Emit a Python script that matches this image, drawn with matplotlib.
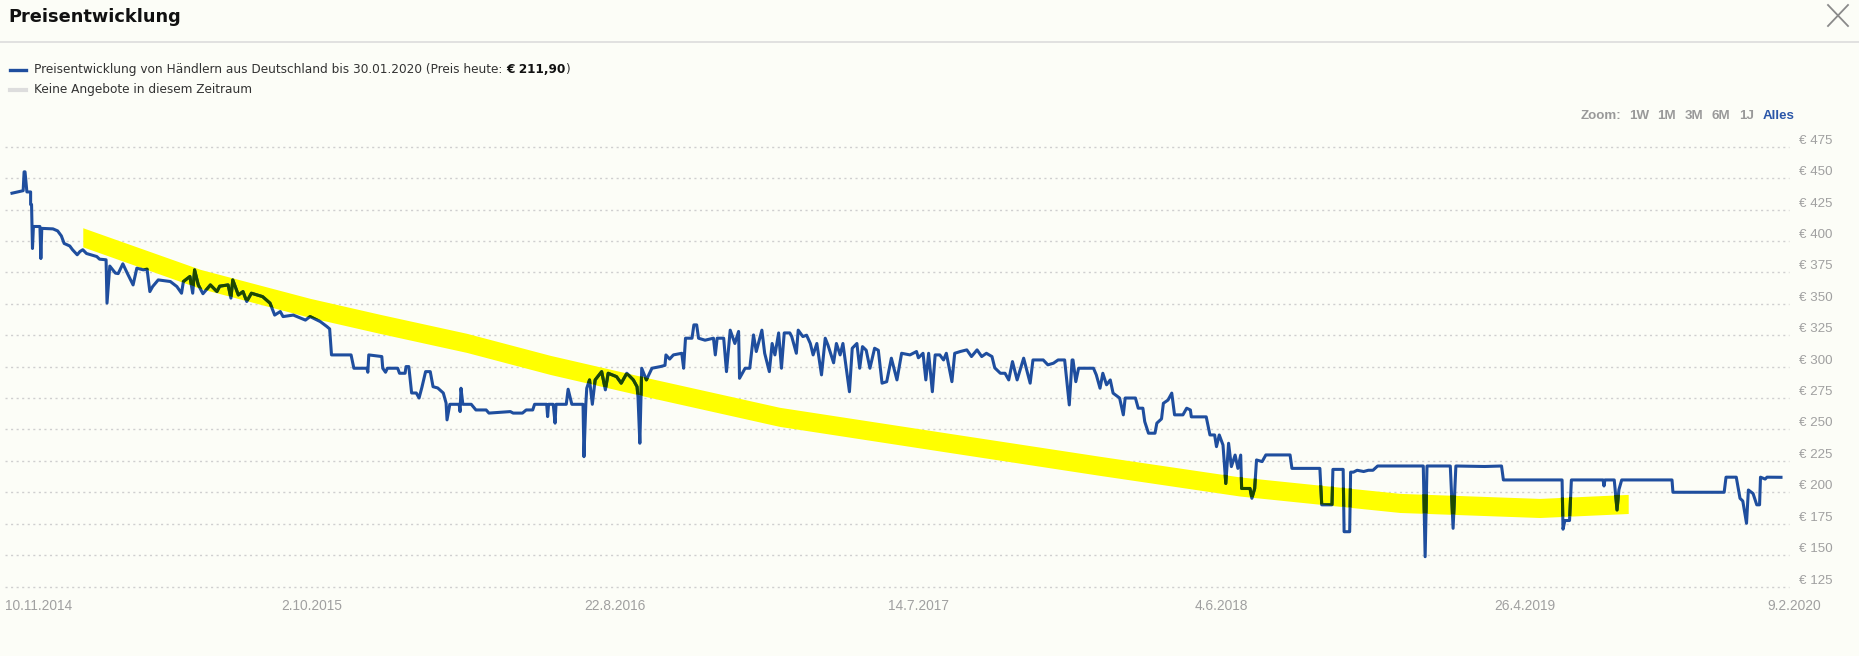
import numpy as np
import pandas as pd
import matplotlib
matplotlib.use('Agg')
import matplotlib.pyplot as plt
import matplotlib.transforms as mtransforms

# Start der Zeitachse, alle Werte sind Tage seit diesem Datum
start = pd.Timestamp('2014-11-10')

price_days = [
    4, 16, 17, 18, 20, 24, 24, 25, 26, 27, 34, 35, 36, 48, 53, 57, 60, 66, 69, 74,
    77, 80, 84, 95, 98, 105, 106, 109, 115, 118, 123, 128, 134, 138, 145, 149, 152, 155, 161, 174,
    181, 186, 188, 195, 198, 200, 204, 209, 217, 224, 227, 236, 239, 241, 247, 252, 256, 261, 273, 281,
    286, 292, 295, 306, 319, 324, 335, 342, 345, 347, 368, 371, 385, 386, 387, 401, 402, 405, 407, 418,
    420, 426, 427, 430, 433, 438, 441, 444, 448, 453, 456, 461, 467, 470, 471, 474, 484, 485, 486, 488,
    497, 502, 513, 516, 539, 542, 552, 556, 563, 565, 578, 579, 580, 585, 587, 588, 599, 601, 605, 617,
    618, 620, 621, 624, 627, 630, 637, 641, 644, 653, 658, 664, 671, 675, 676, 678, 680, 685, 691, 700,
    705, 706, 710, 714, 723, 725, 727, 734, 736, 739, 741, 748, 757, 759, 761, 768, 771, 775, 780, 784,
    785, 791, 796, 800, 803, 809, 812, 817, 820, 823, 827, 830, 833, 839, 841, 846, 848, 853, 857, 861,
    864, 868, 873, 877, 880, 886, 889, 893, 896, 903, 906, 911, 914, 917, 921, 925, 930, 934, 938, 943,
    948, 954, 959, 968, 975, 977, 982, 985, 988, 992, 995, 1000, 1004, 1007, 1013, 1016, 1022, 1029, 1034, 1040,
    1045, 1050, 1056, 1059, 1065, 1070, 1074, 1078, 1083, 1090, 1097, 1100, 1111, 1116, 1122, 1127, 1134, 1139, 1142, 1143,
    1146, 1149, 1165, 1168, 1172, 1175, 1179, 1183, 1186, 1193, 1197, 1199, 1210, 1213, 1218, 1220, 1224, 1231, 1233, 1238,
    1240, 1245, 1249, 1252, 1261, 1265, 1269, 1270, 1286, 1290, 1295, 1297, 1300, 1304, 1307, 1310, 1313, 1317, 1320, 1323,
    1324, 1333, 1335, 1338, 1340, 1346, 1350, 1376, 1378, 1408, 1410, 1421, 1422, 1433, 1434, 1440, 1441, 1444, 1448, 1455,
    1460, 1465, 1470, 1519, 1521, 1523, 1548, 1551, 1554, 1585, 1603, 1605, 1668, 1669, 1671, 1676, 1678, 1712, 1713, 1714,
    1724, 1727, 1729, 1732, 1786, 1787, 1842, 1844, 1855, 1859, 1862, 1866, 1868, 1873, 1877, 1880, 1881, 1886, 1888, 1903,
]

price_eur = [
    438, 440, 455, 455, 439, 439, 429, 429, 394, 411.5, 411.5, 386, 410, 409.6, 408, 404, 398, 396, 393, 389,
    391.6, 393, 390, 387.6, 385.5, 385, 350.5, 380, 374.4, 374, 381.8, 374, 365, 378.3, 377, 377.5, 359.7, 363.7, 369, 367.7,
    363.7, 358.4, 367.7, 371.7, 358.4, 377, 365, 358, 365, 359.7, 364, 365, 354.5, 369, 357, 359.7, 351.8, 358.4, 355.7, 350.5,
    341, 343.8, 339.8, 341, 337, 339.8, 335.8, 331.9, 330, 309.3, 309.3, 298.7, 298.7, 295.5, 309.3, 308, 298.7, 295.5, 298.7, 298.7,
    294.7, 294.7, 300, 300, 279, 279, 275, 283.4, 296, 296, 284, 283, 279, 271, 257.6, 270, 270, 264.2, 282.8, 270,
    270, 265.5, 265.5, 263, 264.2, 263, 263, 265.5, 265.5, 270, 270, 260.2, 270, 270, 255, 270, 270, 282, 270, 270,
    228.3, 270, 282.8, 289.4, 270, 289.4, 296, 281.5, 294.7, 292, 286.8, 294.7, 289.4, 284, 276, 239, 298.7, 289.4, 298.7, 300,
    301, 309.3, 306, 309.3, 310.6, 298.7, 322.6, 322.6, 333.2, 333.2, 322.6, 321, 322.6, 309.3, 322.6, 322.6, 296, 329, 318.4, 328,
    290.7, 298.7, 298.7, 325.2, 312, 329, 310.6, 296, 318.4, 309.3, 326.8, 298.7, 326.8, 326.8, 324, 310.6, 329, 323.9, 325, 318.4,
    309.3, 318.4, 293.4, 322.6, 317, 303, 318.4, 309.3, 318.4, 280, 314.6, 318.4, 298.7, 315.9, 313, 298.7, 314.6, 313, 286.8, 288,
    306.7, 289.4, 310.6, 309.3, 312, 307, 310.6, 289.4, 310.6, 280, 309.3, 309.3, 305.3, 310.6, 288, 310.6, 312, 313.3, 308, 313.3,
    308, 310.6, 308, 299, 294.7, 294.7, 289.4, 304, 289.4, 306.7, 286.8, 305.3, 305.3, 301.4, 302.7, 305.3, 305.3, 269.5, 305.3, 305.3,
    288, 298.7, 298.7, 293.4, 282.8, 294.7, 285.5, 289.4, 278.9, 275, 261.6, 275, 275, 266.9, 266.9, 256.2, 247, 247, 255, 258.4,
    270.8, 273.4, 278.9, 261.6, 261.6, 266.9, 265.5, 260, 260, 245.6, 245.6, 236.3, 245.6, 237.6, 207, 239, 220.4, 229.6, 219, 229.6,
    203, 203, 195.2, 203, 225.7, 224.4, 229.7, 229.7, 219, 219, 190, 190, 218.2, 218.2, 168.6, 168.6, 216, 216, 217.5, 216.5,
    217.5, 217.5, 220.9, 220.9, 148.7, 220.9, 220.9, 171.3, 220.9, 220.5, 220.9, 209.8, 209.8, 170.6, 177.5, 177.5, 209.8, 209.8, 205, 209.8,
    209.8, 185.9, 202, 209.8, 209.8, 200, 200, 212, 212, 195.2, 193, 175.3, 201.8, 199, 190, 190, 212, 210.5, 212, 211.9,
]

# gelber Markierungsstrich (Mitte) und halbe Breite in Euro
band_days = [80, 206, 324, 399, 492, 582, 689, 828, 1011, 1172, 1322, 1494, 1644, 1739]
band_mid = [402.9, 369.8, 346.7, 334, 318.9, 301.3, 283, 260, 239.2, 221, 204.6, 191.5, 187.5, 190.7]
band_half = 7.6

y_ticks = [125, 150, 175, 200, 225, 250, 275, 300, 325, 350, 375, 400, 425, 450, 475]
x_tick_labels = ['10.11.2014', '2.10.2015', '22.8.2016', '14.7.2017', '4.6.2018', '26.4.2019', '9.2.2020']
zoom_buttons = ['1W', '1M', '3M', '6M', '1J', 'Alles']

W, H = 1859, 656
bg = '#fcfdf7'
blue = '#1f4e9e'
grey = '#a0a0a0'
font = 'Liberation Sans'
head_font = 'DejaVu Sans'

dates = start + pd.to_timedelta(price_days, unit='D')
band_dates = start + pd.to_timedelta(band_days, unit='D')
band_mid = np.array(band_mid)

fig = plt.figure(figsize=(W / 100, H / 100), dpi=100, facecolor=bg)

# Kopfzeile
fig.text(8 / W, 1 - 17 / H, 'Preisentwicklung', fontsize=12.8, fontweight='bold',
         family=head_font, color='#111111', va='center')
fig.add_artist(plt.Line2D([0, 1], [1 - 42 / H, 1 - 42 / H], color='#dcdcdc', lw=1.2))
fig.add_artist(plt.Line2D([1828 / W, 1848 / W], [1 - 5 / H, 1 - 26 / H], color='#8a8a8a', lw=1.3))
fig.add_artist(plt.Line2D([1828 / W, 1848 / W], [1 - 26 / H, 1 - 5 / H], color='#8a8a8a', lw=1.3))

# Legende
leg_size = 8.7
fig.add_artist(plt.Line2D([10 / W, 26 / W], [1 - 69.5 / H, 1 - 69.5 / H], color=blue, lw=2.4))
fig.add_artist(plt.Line2D([10 / W, 26 / W], [1 - 90 / H, 1 - 90 / H], color='#dddddd', lw=3))
t = fig.text(33.5 / W, 1 - 69.5 / H, 'Preisentwicklung von Händlern aus Deutschland bis 30.01.2020 (Preis heute: ',
             fontsize=leg_size, family=head_font, color='#333333', va='center')
fig.canvas.draw()
bb = t.get_window_extent()
t2 = fig.text(bb.x1 / W, 1 - 69.5 / H, '€ 211,90', fontsize=leg_size, family=head_font, fontweight='bold',
              color='#111111', va='center')
bb2 = t2.get_window_extent(renderer=fig.canvas.get_renderer())
fig.text(bb2.x1 / W, 1 - 69.5 / H, ')', fontsize=leg_size, family=head_font, color='#333333', va='center')
fig.text(33.5 / W, 1 - 90 / H, 'Keine Angebote in diesem Zeitraum', fontsize=leg_size, family=head_font,
         color='#333333', va='center')

# Zoom-Knoepfe
fig.text(1581 / W, 1 - 116 / H, 'Zoom:', fontsize=9.6, fontweight='bold', family=font,
         color='#999999', va='center')
for label, xp in zip(zoom_buttons, [1629, 1657, 1685, 1712, 1739, 1763]):
    col = '#2a56a8' if label == 'Alles' else '#999999'
    fig.text(xp / W, 1 - 116 / H, label, fontsize=9.6, fontweight='bold', family=font,
             color=col, va='center')

# Diagramm
ax = fig.add_axes([5 / W, 1 - 586.5 / H, (1789 - 5) / W, (586.5 - 146.7) / H])
ax.set_facecolor(bg)
ax.set_xlim(start - pd.Timedelta(days=3.5), start + pd.Timedelta(days=1911.6))
ax.set_ylim(125, 475)
for s in ax.spines.values():
    s.set_visible(False)
ax.set_xticks([])
ax.set_yticks([])

for v in y_ticks:
    ax.axhline(v, color='#cfcfcf', lw=1, ls=(0, (1.5, 2.5)), zorder=0, clip_on=False)

band = ax.fill_between(band_dates, band_mid - band_half, band_mid + band_half,
                       color='#ffff00', lw=0, zorder=1)
ax.plot(dates, price_eur, color=blue, lw=2.2, zorder=2)
# Ueberlappung mit dem Textmarker wirkt dunkelgruen
green, = ax.plot(dates, price_eur, color='#1d4800', lw=2.2, zorder=3)
green.set_clip_path(band.get_paths()[0], transform=ax.transData)

# Achsenbeschriftungen
ylab = mtransforms.offset_copy(ax.get_yaxis_transform(), fig=fig, x=10, y=6, units='dots')
for v in y_ticks:
    ax.text(1.0, v, f'€ {v}', transform=ylab, fontsize=9.6, family=font, color=grey,
            va='center', ha='left', clip_on=False)

xlab = mtransforms.offset_copy(ax.get_xaxis_transform(), fig=fig, x=0, y=-19.5, units='dots')
for i, label in enumerate(x_tick_labels):
    d = pd.to_datetime(label, format='%d.%m.%Y')
    ha = 'left' if i == 0 else 'center'
    xd = d - pd.Timedelta(days=4) if i == 0 else d
    ax.text(xd, 0, label, transform=xlab, fontsize=9.9, family=font, color=grey,
            va='center', ha=ha, clip_on=False)

plt.savefig('out.png', dpi=100, facecolor=bg)
